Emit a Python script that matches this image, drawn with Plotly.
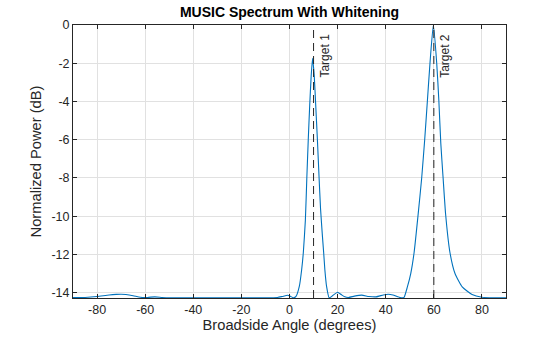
import plotly.graph_objects as go

# Broadside angle (degrees) and normalized MUSIC power (dB)
angles_deg = [-90, -85, -80, -75, -72, -70, -68, -65, -62, -59, -56, -53, -50, -40, -30, -20,
              -10, -5, -3, -0.8, 0.5, 1.7, 2.7, 4.1, 5.05, 5.75, 6.6, 7.2, 7.8, 8.4, 9.0, 9.6,
              10.3, 10.9, 11.6, 12.3, 12.9, 13.6, 14.2, 14.7, 15.4, 16.5, 18, 20, 21.5, 23,
              24.5, 27, 30, 33, 36, 39, 41, 43, 45, 46.5, 47.6, 49.0, 50.4, 51.8, 53.4,
              54.95, 56.2, 57.3, 58.4, 59.8, 61.2, 62.1, 62.9, 63.8, 64.9, 66.7, 68.8, 71.8,
              75.9, 80, 85, 90]
power_db = [-14.26, -14.25, -14.2, -14.12, -14.09, -14.08, -14.1, -14.16, -14.24, -14.25,
            -14.22, -14.25, -14.27, -14.27, -14.27, -14.27, -14.27, -14.25, -14.2, -14.14,
            -14.2, -14.27, -14.2, -13.66, -12.8, -11.9, -10.2, -8.0, -6.0, -4.2, -2.7, -1.74,
            -2.7, -4.2, -6.0, -8.0, -9.6, -10.9, -11.9, -12.8, -13.66, -14.27, -14.15, -13.98,
            -14.1, -14.22, -14.25, -14.18, -14.13, -14.2, -14.22, -14.12, -14.08, -14.12,
            -14.22, -14.27, -14.25, -13.7, -13.0, -11.9, -10.0, -8.0, -6.0, -4.0, -2.0, 0.0,
            -2.0, -4.0, -6.2, -7.9, -9.9, -11.9, -13.0, -13.7, -14.1, -14.24, -14.27, -14.27]

target_angles = [10, 60]
target_labels = ["Target 1", "Target 2"]

x_ticks = [-80, -60, -40, -20, 0, 20, 40, 60, 80]
y_ticks = [0, -2, -4, -6, -8, -10, -12, -14]

FONT = "Liberation Sans, Arial, sans-serif"
TXT = "#262626"

fig = go.Figure()
fig.add_trace(go.Scatter(x=angles_deg, y=power_db, mode="lines",
                         line=dict(color="#0072BD", width=1.1, shape="spline", smoothing=0.5),
                         showlegend=False, hoverinfo="skip"))

for a, lab in zip(target_angles, target_labels):
    fig.add_shape(type="line", xref="x", yref="paper", x0=a, x1=a, y0=0, y1=1,
                  line=dict(color="#262626", width=1, dash="8px,5px"))
    fig.add_annotation(x=a, y=0, xref="x", yref="y", text=lab, showarrow=False,
                       textangle=-90, xanchor="left", yanchor="top", xshift=2, yshift=-7,
                       font=dict(family=FONT, size=12, color=TXT))

axis_common = dict(showline=True, linecolor=TXT, linewidth=1, mirror="ticks",
                   ticks="inside", ticklen=4, tickcolor=TXT, showgrid=True,
                   gridcolor="#e1e1e1", gridwidth=1, zeroline=False, automargin=False,
                   tickfont=dict(family=FONT, size=12.5, color=TXT))

fig.update_layout(
    width=560, height=337,
    margin=dict(l=73, r=54, t=25, b=39),
    paper_bgcolor="white", plot_bgcolor="white",
    title=dict(text="<b>MUSIC Spectrum With Whitening</b>", x=(73 + 506) / 2 / 560,
               xanchor="center", y=1 - 12 / 337, yanchor="middle",
               font=dict(family=FONT, size=14, color="black")),
    xaxis=dict(range=[-90, 90], tickvals=x_ticks, ticktext=[str(v) for v in x_ticks],
               title=dict(text="Broadside Angle (degrees)", standoff=2,
                          font=dict(family=FONT, size=14.7, color=TXT)),
               **axis_common),
    yaxis=dict(range=[-14.28, 0], tickvals=y_ticks, ticktext=[str(v) for v in y_ticks],
               title=dict(text="Normalized Power (dB)", standoff=6,
                          font=dict(family=FONT, size=14.7, color=TXT)),
               **axis_common),
)

fig.write_html("out.html")
